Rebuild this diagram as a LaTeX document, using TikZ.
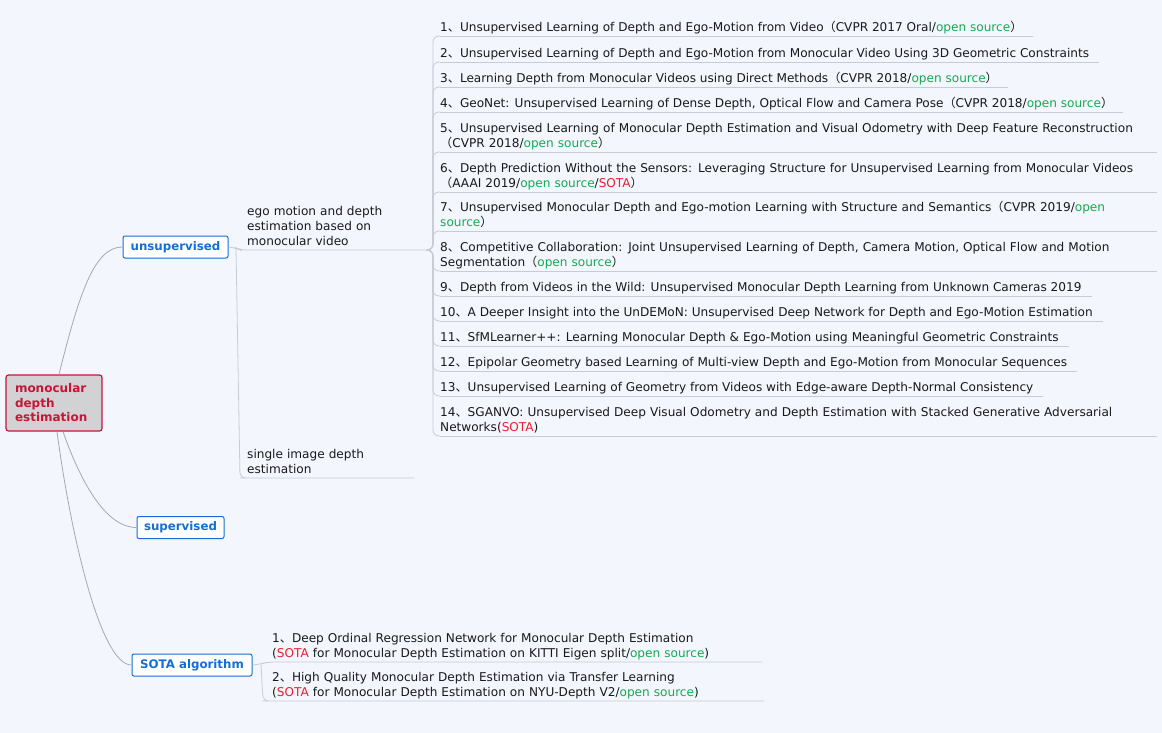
\documentclass[tikz,border=0pt]{standalone}
\usepackage{fontspec}
\setmainfont{DejaVu Sans}
\newfontfamily\cjk{Noto Sans CJK SC}
\definecolor{bg}{RGB}{243,246,253}
\definecolor{conncol}{RGB}{165,168,178}
\definecolor{ulcol}{RGB}{200,203,212}
\definecolor{osgreen}{RGB}{20,170,80}
\definecolor{sotared}{RGB}{235,30,45}
\definecolor{rootred}{RGB}{200,20,55}
\definecolor{rootfill}{RGB}{210,210,213}
\definecolor{topblue}{RGB}{20,110,215}
\definecolor{txt}{RGB}{25,25,25}
\newcommand{\dun}{{\cjk 、}}
\newcommand{\lpar}{{\cjk （}}
\newcommand{\rpar}{{\cjk ）}}
\newcommand{\osrc}{\textcolor{osgreen}{open source}}
\newcommand{\sotat}{\textcolor{sotared}{SOTA}}
\begin{document}
\begin{tikzpicture}[x=1pt,y=-1pt,
  rootbox/.style={draw=rootred, fill=rootfill, rounded corners=2.5, line width=1.2pt, text=rootred,
    font=\bfseries\fontsize{12}{14.5}\selectfont, align=left, text width=78, inner xsep=9, inner ysep=4, minimum height=56},
  topic/.style={draw=topblue, fill=white, rounded corners=2, line width=1pt, text=topblue,
    font=\bfseries\fontsize{11.8}{14}\selectfont, inner xsep=7, inner ysep=3, minimum height=22},
  item/.style={anchor=south west, inner sep=0pt, align=left, text=txt,
    font=\fontsize{12.1}{15}\selectfont, execute at end node=\strut},
  conn/.style={draw=conncol, line width=0.8pt},
  uline/.style={draw=ulcol, line width=0.8pt},
  bundle/.style={draw=ulcol, line width=0.8pt, rounded corners=6}
]
\useasboundingbox (0,0) rectangle (1162,733);
\fill[bg] (0,0) rectangle (1162,733);

% main nodes
\node[rootbox] (root) at (54,403) {monocular\\depth\\estimation};
\node[topic, minimum width=105] (unsup) at (175.5,247) {unsupervised};
\node[topic, minimum width=87] (sup) at (180.5,527.5) {supervised};
\node[topic, minimum width=120] (sota) at (192,665) {SOTA algorithm};

% root connectors
\draw[conn] ([xshift=5]root.north) .. controls (80,290) and (95,247) .. (unsup.west);
\draw[conn] ([xshift=9]root.south) .. controls (80,480) and (105,527.5) .. (sup.west);
\draw[conn] ([xshift=3]root.south) .. controls (70,530) and (100,665) .. (sota.west);

% second level under unsupervised
\node[item, text width=177] (ego) at (247,250.5) {ego motion and depth\\estimation based on\\monocular video};
\node[item, text width=163] (single) at (247,478.5) {single image depth\\estimation};
\coordinate (split) at (236,248);
\coordinate (ue) at (240,250);
\coordinate (us) at (246,478);
\coordinate (hub) at (428,250);
\draw[bundle] (unsup.east) -- (split) -- (ue) -- (hub);
\draw[bundle] (split) -- (240,478) -- (us) -- ([shift={(4,-0.5)}]single.south east);

% items
\node[item] (n1) at (440,36.5) {1\dun Unsupervised Learning of Depth and Ego-Motion from Video\lpar CVPR 2017 Oral/\osrc\rpar};
\node[item] (n2) at (440,62.5) {2\dun Unsupervised Learning of Depth and Ego-Motion from Monocular Video Using 3D Geometric Constraints};
\node[item] (n3) at (440,87.5) {3\dun Learning Depth from Monocular Videos using Direct Methods\lpar CVPR 2018/\osrc\rpar};
\node[item] (n4) at (440,112.5) {4\dun GeoNet: Unsupervised Learning of Dense Depth, Optical Flow and Camera Pose\lpar CVPR 2018/\osrc\rpar};
\node[item, text width=713] (n5) at (440,152.5) {5\dun Unsupervised Learning of Monocular Depth Estimation and Visual Odometry with Deep Feature Reconstruction\\\lpar CVPR 2018/\osrc\rpar};
\node[item, text width=713] (n6) at (440,192.5) {6\dun Depth Prediction Without the Sensors: Leveraging Structure for Unsupervised Learning from Monocular Videos\\\lpar AAAI 2019/\osrc/\sotat\rpar};
\node[item, text width=713] (n7) at (440,231.5) {7\dun Unsupervised Monocular Depth and Ego-motion Learning with Structure and Semantics\lpar CVPR 2019/\textcolor{osgreen}{open}\\\textcolor{osgreen}{source}\rpar};
\node[item, text width=713] (n8) at (440,271.5) {8\dun Competitive Collaboration: Joint Unsupervised Learning of Depth, Camera Motion, Optical Flow and Motion\\Segmentation\lpar\osrc\rpar};
\node[item] (n9) at (440,296.5) {9\dun Depth from Videos in the Wild: Unsupervised Monocular Depth Learning from Unknown Cameras 2019};
\node[item] (n10) at (440,321.5) {10\dun A Deeper Insight into the UnDEMoN: Unsupervised Deep Network for Depth and Ego-Motion Estimation};
\node[item] (n11) at (440,346.5) {11\dun SfMLearner++: Learning Monocular Depth \& Ego-Motion using Meaningful Geometric Constraints};
\node[item] (n12) at (440,371.5) {12\dun Epipolar Geometry based Learning of Multi-view Depth and Ego-Motion from Monocular Sequences};
\node[item] (n13) at (440,396.5) {13\dun Unsupervised Learning of Geometry from Videos with Edge-aware Depth-Normal Consistency};
\node[item, text width=713] (n14) at (440,436.5) {14\dun SGANVO: Unsupervised Deep Visual Odometry and Depth Estimation with Stacked Generative Adversarial\\Networks(\sotat)};

\foreach \i/\y/\e in {1/36/10,2/62/10,3/87/10,4/112/10,5/152/4,6/192/4,7/231/4,8/271/4,9/296/10,10/321/10,11/346/10,12/371/10,13/396/10,14/436/4}{
  \coordinate (u\i) at (440,\y);
  \draw[bundle] (hub) -- ++(5,0) |- (u\i);
  \draw[uline] (u\i) -- ([shift={(\e,-0.5)}]n\i.south east);
}

% SOTA items
\node[item, text width=488] (s1) at (272,662.5) {1\dun Deep Ordinal Regression Network for Monocular Depth Estimation\\(\sotat{} for Monocular Depth Estimation on KITTI Eigen split/\osrc)};
\node[item, text width=488] (s2) at (272,701.5) {2\dun High Quality Monocular Depth Estimation via Transfer Learning\\(\sotat{} for Monocular Depth Estimation on NYU-Depth V2/\osrc)};
\coordinate (sj) at (261,664);
\coordinate (us1) at (268,662);
\coordinate (us2) at (268,701);
\draw[bundle] (sota.east) -- (sj) -- (us1) -- ([shift={(2,-0.5)}]s1.south east);
\draw[bundle] (sj) -- (263,701) -- (us2) -- ([shift={(4,-0.5)}]s2.south east);
\end{tikzpicture}
\end{document}
